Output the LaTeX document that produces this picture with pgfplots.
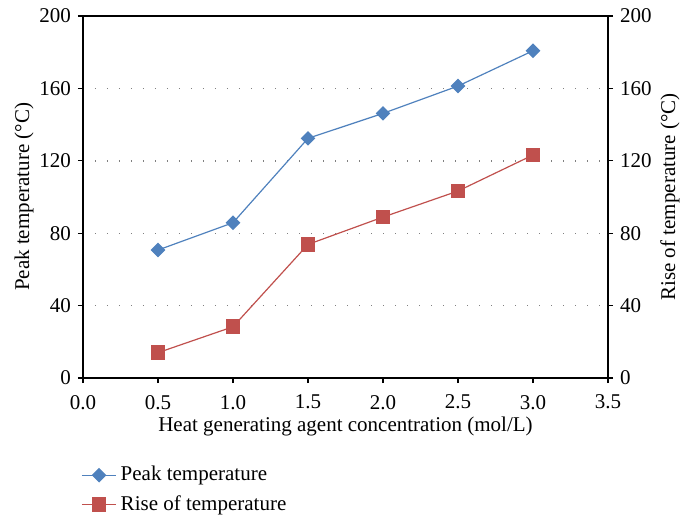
\documentclass[border=0pt]{standalone}
\usepackage{pgfplots}
\pgfplotsset{compat=1.18}
\usepackage{fontspec}
\setmainfont{Liberation Serif}
\definecolor{xblue}{RGB}{79,129,189}
\definecolor{xred}{RGB}{192,80,77}
\begin{document}
\begin{tikzpicture}
\pgfplotsset{
  every axis/.append style={
    width=262.5pt, height=181pt, scale only axis,
    xmin=0, xmax=3.5, ymin=0, ymax=200,
    font=\fontsize{10.5}{12}\selectfont,
    /pgf/number format/assume math mode=true,
    tick align=outside,
    major tick length=2.5pt,
    tick style={black, line width=0.6pt},
    axis line style={line width=0.7pt},
    ytick={0,40,80,120,160,200},
  }
}
\path[use as bounding box] (-41.5pt,-68.5pt) rectangle (298.5pt,189pt);
\begin{axis}[
  xtick={0,0.5,1,1.5,2,2.5,3,3.5},
  xticklabel style={yshift=-2.5pt, /pgf/number format/.cd, fixed, fixed zerofill, precision=1},
  ytick pos=left, xtick pos=bottom,
  ymajorgrids,
  major grid style={gray, line width=0.7pt, dash pattern=on 0.7pt off 5.3pt},
  xlabel={Heat generating agent concentration (mol/L)},
  ylabel={Peak temperature (°C)},
  xlabel style={yshift=3pt},
  ylabel style={yshift=-4pt},
  legend style={draw=none, fill=none, at={(0,0)}, anchor=north west, xshift=-4pt, yshift=-40pt,
    font=\fontsize{10.5}{12}\selectfont, row sep=2pt, legend cell align=left,
    /tikz/every even column/.append style={column sep=2pt}},
]
\addplot[color=xblue, line width=0.6pt, mark=square*, mark size=2.3pt, mark options={rotate=45, fill=xblue, draw=xblue}]
  coordinates {(0.5,70.7) (1.0,85.8) (1.5,132.4) (2.0,146.2) (2.5,161.3) (3.0,180.8)};
\addlegendentry{Peak temperature}
\addplot[color=xred, line width=0.6pt, mark=square*, mark size=3.4pt, mark options={fill=xred, draw=xred}]
  coordinates {(0.5,14.0) (1.0,28.3) (1.5,73.8) (2.0,88.9) (2.5,103.3) (3.0,123.2)};
\addlegendentry{Rise of temperature}
\end{axis}
\begin{axis}[
  axis y line*=right, axis x line=none,
  ylabel={Rise of temperature (°C)},
  ylabel shift=-2.5pt,
]
\end{axis}
\end{tikzpicture}
\end{document}
